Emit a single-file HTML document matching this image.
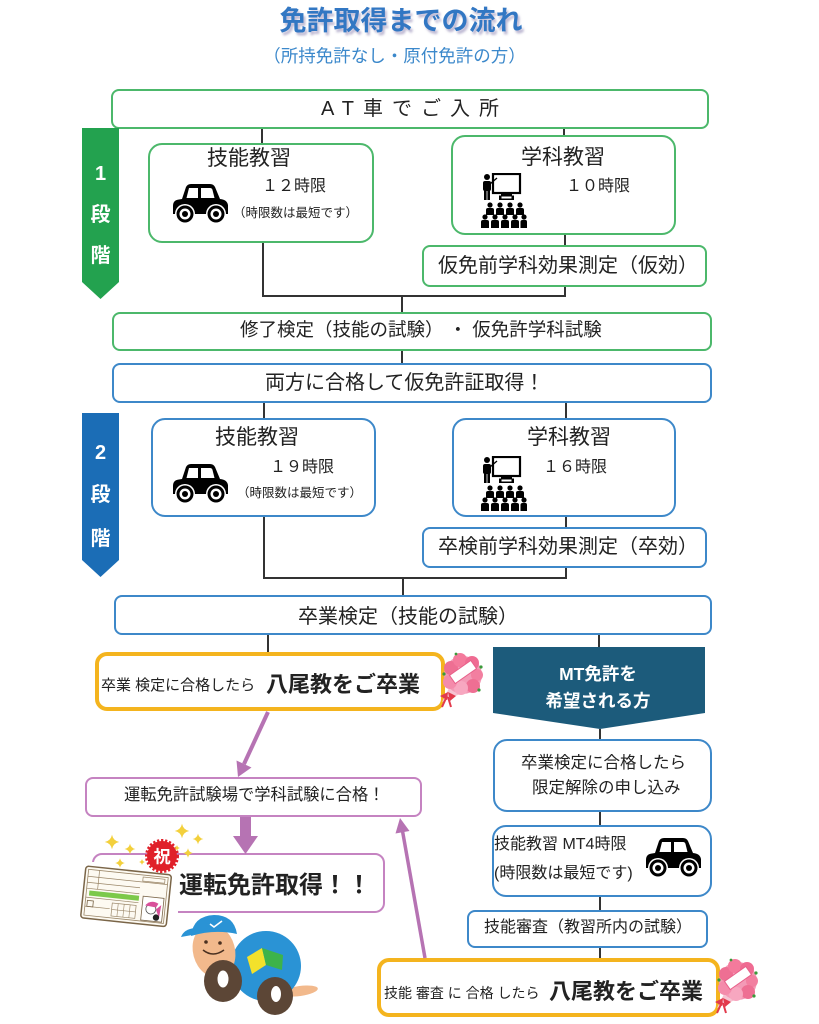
<!DOCTYPE html>
<html lang="ja"><head><meta charset="utf-8"><title>免許取得までの流れ</title>
<style>
*{margin:0;padding:0;box-sizing:border-box}
html,body{width:819px;height:1024px}
body{position:relative;background:#fff;overflow:hidden;font-family:"Liberation Sans","Noto Sans CJK JP",sans-serif;color:#222}
.t{position:absolute;white-space:nowrap;line-height:1}
.b{position:absolute;background:#fff;border:2px solid #4cb86b}
.g{border-color:#4cb86b}
.u{border-color:#3d88c9}
.p{border-color:#c583c1}
.y{border:4px solid #f4b41e;border-radius:12px}
</style></head><body>

<div class="t" style="left:0;width:802px;text-align:center;top:8px;font-size:27px;font-weight:bold;color:#3277c3;text-shadow:2px 3px 2px rgba(130,120,170,.5)">免許取得までの流れ</div>
<div class="t" style="left:0;width:789px;text-align:center;top:48px;font-size:17.5px;color:#3b88cb">（所持免許なし・原付免許の方）</div>

<!-- AT -->
<div class="b g" style="left:111px;top:89px;width:598px;height:40px;border-radius:8px"></div>
<div class="t" style="left:111px;width:598px;text-align:center;top:99px;font-size:20px;letter-spacing:9px;padding-left:9px">AT車でご入所</div>

<!-- stage 1 -->
<div class="b g" style="left:148px;top:143px;width:226px;height:100px;border-radius:14px"></div>
<div class="t" style="left:207px;top:147.5px;font-size:21px">技能教習</div>
<div class="t" style="left:262px;top:179px;font-size:16px">１２時限</div>
<div class="t" style="left:233px;top:207px;font-size:12.5px">（時限数は最短です）</div>

<div class="b g" style="left:451px;top:135px;width:225px;height:100px;border-radius:14px"></div>
<div class="t" style="left:521px;top:146.5px;font-size:21px">学科教習</div>
<div class="t" style="left:566px;top:179px;font-size:16px">１０時限</div>

<div class="b g" style="left:422px;top:245px;width:285px;height:42px;border-radius:8px"></div>
<div class="t" style="left:438px;top:256px;font-size:20px">仮免前学科効果測定（仮効）</div>

<div class="b g" style="left:112px;top:312px;width:600px;height:39px;border-radius:8px"></div>
<div class="t" style="left:240px;top:321px;font-size:18.5px">修了検定（技能の試験） ・ 仮免許学科試験</div>

<div class="b u" style="left:112px;top:363px;width:600px;height:40px;border-radius:8px"></div>
<div class="t" style="left:265px;top:373px;font-size:20px">両方に合格して仮免許証取得！</div>

<!-- stage 2 -->
<div class="b u" style="left:151px;top:418px;width:225px;height:99px;border-radius:14px"></div>
<div class="t" style="left:215px;top:426.5px;font-size:21px">技能教習</div>
<div class="t" style="left:270px;top:460px;font-size:16px">１９時限</div>
<div class="t" style="left:237px;top:487px;font-size:12.5px">（時限数は最短です）</div>

<div class="b u" style="left:452px;top:418px;width:224px;height:99px;border-radius:14px"></div>
<div class="t" style="left:527px;top:426.5px;font-size:21px">学科教習</div>
<div class="t" style="left:543px;top:460px;font-size:16px">１６時限</div>

<div class="b u" style="left:422px;top:527px;width:285px;height:41px;border-radius:8px"></div>
<div class="t" style="left:438px;top:537px;font-size:20px">卒検前学科効果測定（卒効）</div>

<div class="b u" style="left:114px;top:595px;width:598px;height:40px;border-radius:8px"></div>
<div class="t" style="left:298px;top:607px;font-size:20px">卒業検定（技能の試験）</div>

<!-- yellow 1 -->
<div class="b y" style="left:95px;top:652px;width:350px;height:59px"></div>
<div class="t" style="left:101px;top:677.5px;font-size:15px">卒業 検定に合格したら</div>
<div class="t" style="left:266px;top:674px;font-size:22px;font-weight:bold">八尾教をご卒業</div>

<!-- MT side -->
<div class="b u" style="left:493px;top:739px;width:219px;height:73px;border-radius:14px"></div>
<div class="t" style="left:521px;top:755px;font-size:16.5px">卒業検定に合格したら</div>
<div class="t" style="left:532px;top:780px;font-size:16.5px">限定解除の申し込み</div>

<div class="b u" style="left:492px;top:825px;width:220px;height:72px;border-radius:14px"></div>
<div class="t" style="left:494px;top:837px;font-size:16px">技能教習 MT4時限</div>
<div class="t" style="left:494px;top:866px;font-size:16px">(時限数は最短です)</div>

<div class="b u" style="left:467px;top:910px;width:241px;height:38px;border-radius:8px"></div>
<div class="t" style="left:484px;top:920px;font-size:16px">技能審査（教習所内の試験）</div>

<div class="b y" style="left:377px;top:958px;width:343px;height:59px"></div>
<div class="t" style="left:384px;top:986px;font-size:14px">技能 審査 に 合格 したら</div>
<div class="t" style="left:549px;top:981px;font-size:22px;font-weight:bold">八尾教をご卒業</div>

<!-- purple -->
<div class="b p" style="left:85px;top:777px;width:337px;height:40px;border-radius:8px"></div>
<div class="t" style="left:124px;top:787px;font-size:16.3px">運転免許試験場で学科試験に合格！</div>

<div class="b p" style="left:92px;top:853px;width:293px;height:60px;border-radius:10px;border-width:2.5px"></div>
<div class="t" style="left:179px;top:874px;font-size:24px;font-weight:bold">運転免許取得！！</div>

<svg style="position:absolute;left:0;top:0" width="819" height="1024" viewBox="0 0 819 1024">
<defs>
<symbol id="car" viewBox="0 0 60 40">
<path d="M3,31 L3,23 Q3,17 9,16.5 L12,16 L16,4 Q17.5,1 21,1 L40,1 Q43.5,1 45,4 L50,16 Q57,16.5 58,22 L58,31 Z" fill="#000"/>
<path d="M19,5 L28,5 L28,15 L16.5,15 Z" fill="#fff"/>
<path d="M31,5 L40,5 Q42,5 42.5,7 L44.5,15 L31,15 Z" fill="#fff"/>
<circle cx="15" cy="31" r="10" fill="#fff"/><circle cx="15" cy="31" r="8.5" fill="#000"/><circle cx="15" cy="31" r="5.5" fill="#fff"/><circle cx="15" cy="31" r="3" fill="#000"/>
<circle cx="46" cy="31" r="10" fill="#fff"/><circle cx="46" cy="31" r="8.5" fill="#000"/><circle cx="46" cy="31" r="5.5" fill="#fff"/><circle cx="46" cy="31" r="3" fill="#000"/>
</symbol>
<symbol id="cls" viewBox="0 0 46 56">
<rect x="12" y="1" width="27" height="19" fill="none" stroke="#000" stroke-width="2.2"/>
<rect x="20" y="20" width="11" height="2.5" fill="#000"/>
<rect x="18" y="22.5" width="15" height="4.5" fill="#000"/>
<rect x="20.5" y="23.5" width="10" height="2" fill="#fff"/>
<circle cx="6" cy="4" r="3" fill="#000"/>
<rect x="2" y="8" width="8" height="10" rx="2" fill="#000"/>
<rect x="3" y="17" width="2.6" height="10" fill="#000"/>
<rect x="6.4" y="17" width="2.6" height="10" fill="#000"/>
<line x1="9" y1="11" x2="16" y2="5" stroke="#000" stroke-width="1.3"/>
<g fill="#000">
<circle cx="9" cy="32" r="2.6"/><path d="M5,42 L5,37 Q5,35 7,35 L11,35 Q13,35 13,37 L13,42Z"/>
<circle cx="19" cy="32" r="2.6"/><path d="M15,42 L15,37 Q15,35 17,35 L21,35 Q23,35 23,37 L23,42Z"/>
<circle cx="29" cy="32" r="2.6"/><path d="M25,42 L25,37 Q25,35 27,35 L31,35 Q33,35 33,37 L33,42Z"/>
<circle cx="39" cy="32" r="2.6"/><path d="M35,42 L35,37 Q35,35 37,35 L41,35 Q43,35 43,37 L43,42Z"/>
<circle cx="4" cy="44" r="2.6"/><path d="M0,55 L0,49 Q0,47 2,47 L6,47 Q8,47 8,49 L8,55Z"/>
<circle cx="14" cy="44" r="2.6"/><path d="M10,55 L10,49 Q10,47 12,47 L16,47 Q18,47 18,49 L18,55Z"/>
<circle cx="24" cy="44" r="2.6"/><path d="M20,55 L20,49 Q20,47 22,47 L26,47 Q28,47 28,49 L28,55Z"/>
<circle cx="34" cy="44" r="2.6"/><path d="M30,55 L30,49 Q30,47 32,47 L36,47 Q38,47 38,49 L38,55Z"/>
<circle cx="43" cy="44" r="2.6"/><path d="M39.5,55 L39.5,49 Q39.5,47 41.5,47 L44.5,47 Q46,47 46,49 L46,55Z"/>
</g>
</symbol>
<symbol id="bq" viewBox="0 0 48 56">
<path d="M6,50 L14,34 L24,42 Z" fill="#f6c3d2"/>
<circle cx="27" cy="23" r="19" fill="#f39ab6"/>
<circle cx="15" cy="16" r="7" fill="#ee6f93"/>
<circle cx="24" cy="8" r="7" fill="#f47a9c"/>
<circle cx="36" cy="11" r="7" fill="#ef6b92"/>
<circle cx="41" cy="23" r="6" fill="#f27fa0"/>
<circle cx="37" cy="34" r="7" fill="#ee6f93"/>
<circle cx="25" cy="36" r="7" fill="#f7a7c0"/>
<circle cx="14" cy="30" r="7" fill="#f48bab"/>
<rect x="14" y="15" width="26" height="10" fill="#fff" stroke="#e8608a" stroke-width="1" transform="rotate(-35 27 20)"/>
<path d="M4,44 L12,40 L11,48 Z M12,40 L20,44 L14,49Z" fill="#e23a4c"/>
<path d="M11,44 L6,55 M12,45 L15,55" stroke="#e23a4c" stroke-width="2"/>
<circle cx="8" cy="22" r="1.6" fill="#3a9a3a"/><circle cx="45" cy="15" r="1.6" fill="#3a9a3a"/><circle cx="43" cy="38" r="1.6" fill="#3a9a3a"/><circle cx="20" cy="2" r="1.4" fill="#3a9a3a"/>
</symbol>
<path id="sp" d="M0,-6 Q1,-1 6,0 Q1,1 0,6 Q-1,1 -6,0 Q-1,-1 0,-6Z" fill="#f3d03c"/>
</defs>

<!-- connectors -->
<g stroke="#333" stroke-width="2" fill="none">
<path d="M262,129 V143 M564,129 V135"/>
<path d="M263,243 V296 M565,235 V245 M565,287 V296 M262,296 H566 M402,296 V312"/>
<path d="M402,351 V363 M264,403 V418 M566,403 V418"/>
<path d="M264,517 V578 M566,517 V527 M566,568 V578 M263,578 H567 M403,578 V595"/>
<path d="M268,635 V652 M599,635 V647"/>
<path d="M600,729 V739 M600,812 V825 M600,897 V910 M600,948 V958"/>
</g>

<!-- stage badges -->
<polygon points="82,128 119,128 119,282 100.5,299 82,282" fill="#23a24f"/>
<g fill="#fff" font-weight="bold" font-size="20" text-anchor="middle" font-family="Liberation Sans, Noto Sans CJK JP, sans-serif">
<text x="100.5" y="180">1</text><text x="100.5" y="221">段</text><text x="100.5" y="262">階</text>
</g>
<polygon points="82,413 119,413 119,560 100.5,577 82,560" fill="#1b6db6"/>
<g fill="#fff" font-weight="bold" font-size="20" text-anchor="middle" font-family="Liberation Sans, Noto Sans CJK JP, sans-serif">
<text x="100.5" y="459">2</text><text x="100.5" y="501">段</text><text x="100.5" y="545">階</text>
</g>

<!-- icons -->
<use href="#car" x="170" y="183" width="60" height="40"/>
<use href="#car" x="170" y="463" width="60" height="40"/>
<use href="#car" x="643" y="837" width="60" height="40"/>
<use href="#cls" x="481" y="173" width="46" height="56"/>
<use href="#cls" x="481" y="456" width="46" height="56"/>

<!-- MT banner -->
<polygon points="493,647 705,647 705,713 600,729 493,713" fill="#1c5b7b"/>
<g fill="#fff" font-weight="bold" font-size="17.5" text-anchor="middle" font-family="Liberation Sans, Noto Sans CJK JP, sans-serif">
<text x="598" y="680">MT免許を</text><text x="598" y="707">希望される方</text>
</g>

<!-- bouquets -->
<use href="#bq" x="436" y="652" width="48" height="56"/>
<use href="#bq" x="711" y="958" width="48" height="56"/>

<!-- purple arrows -->
<g fill="#b673b3" stroke="#b673b3">
<line x1="268" y1="712" x2="244" y2="764" stroke-width="4"/>
<polygon points="238,777 251.5,767.5 236.5,760.5" stroke="none"/>
<rect x="240" y="817" width="11" height="22" stroke="none"/>
<polygon points="233,836 258,836 245.5,854" stroke="none"/>
<line x1="425" y1="958" x2="402.5" y2="831" stroke-width="3.5"/>
<polygon points="400,818 409.5,831 395.5,833.5" stroke="none"/>
</g>

<!-- card -->
<rect x="77" y="862" width="101" height="70" fill="#fff"/>
<g transform="translate(86,866) rotate(6)">
<rect x="0" y="0" width="86" height="52" rx="3" fill="#fdfaf2" stroke="#7a6548" stroke-width="1.5"/>
<rect x="3" y="3" width="80" height="46" fill="none" stroke="#9a8668" stroke-width="0.8"/>
<path d="M3,10 H83 M3,16 H56 M3,22 H56 M14,3 V22 M3,31 H56 M3,40 H28" stroke="#9a8668" stroke-width="0.7"/>
<rect x="58" y="5" width="22" height="4" fill="none" stroke="#9a8668" stroke-width="0.7"/>
<rect x="6" y="24" width="50" height="5" fill="#7cc94a"/>
<rect x="5" y="34" width="6" height="6" fill="none" stroke="#7a6548" stroke-width="0.8"/>
<rect x="30" y="34" width="24" height="13" fill="none" stroke="#9a8668" stroke-width="0.7"/>
<path d="M36,34 V47 M42,34 V47 M48,34 V47 M30,40.5 H54" stroke="#9a8668" stroke-width="0.6"/>
<rect x="60" y="24" width="21" height="24" fill="#fff" stroke="#7a6548" stroke-width="0.8"/>
<circle cx="69" cy="36" r="5" fill="#fff" stroke="#555" stroke-width="0.8"/>
<path d="M63,33 Q68,26 76,30 L74,34 Z" fill="#d9509a"/>
<path d="M74,36 L79,31 L78,44 Z" fill="#d9509a"/>
<circle cx="75" cy="44" r="3.2" fill="#222"/>
</g>

<!-- 祝 -->
<circle cx="162" cy="856" r="15.5" fill="none" stroke="#e0202a" stroke-width="3" stroke-dasharray="2.2 1.8"/>
<circle cx="162" cy="856" r="15" fill="#e0202a"/>
<text x="162" y="862.5" text-anchor="middle" fill="#fff" font-size="17" font-weight="bold" font-family="Liberation Sans, Noto Sans CJK JP, sans-serif">祝</text>

<!-- sparkles -->
<use href="#sp" transform="translate(112,842) scale(1.2)"/>
<use href="#sp" transform="translate(130,849) scale(0.9)"/>
<use href="#sp" transform="translate(120,863) scale(0.8)"/>
<use href="#sp" transform="translate(182,831) scale(1.2)"/>
<use href="#sp" transform="translate(198,839) scale(0.9)"/>
<use href="#sp" transform="translate(188,853) scale(0.8)"/>
<use href="#sp" transform="translate(142,862) scale(0.5)"/>
<use href="#sp" transform="translate(177,848) scale(0.5)"/>

<!-- turtle mascot -->
<ellipse cx="300" cy="991" rx="18" ry="5" fill="#f2b98c" transform="rotate(-8 300 991)"/>
<circle cx="266" cy="966" r="35" fill="#2a93d5"/>
<ellipse cx="214" cy="951" rx="21" ry="27" fill="#f2b98c" transform="rotate(-15 214 951)"/>
<path d="M191,936 Q193,916 214,915 Q234,915 237,934 Q214,929 191,936Z" fill="#2a93d5"/>
<path d="M192,935 L181,937 Q184,929 195,928Z" fill="#2a93d5"/>
<path d="M210,924 L214,927 L222,921" stroke="#fff" stroke-width="1.6" fill="none"/>
<circle cx="206" cy="942" r="1.8" fill="#4a3020"/>
<circle cx="220" cy="943" r="1.8" fill="#4a3020"/>
<path d="M203,950 Q213,958 224,950" stroke="#4a3020" stroke-width="1.5" fill="none"/>
<polygon points="247,957 262,948 266,965 252,974" fill="#f3e12b"/>
<polygon points="262,948 283,955 282,970 266,965" fill="#3db34a"/>
<ellipse cx="223" cy="981" rx="19" ry="21" fill="#5c4636"/>
<ellipse cx="223" cy="979" rx="5.5" ry="8.5" fill="#fff"/>
<ellipse cx="275" cy="996" rx="18" ry="19" fill="#5c4636"/>
<ellipse cx="276" cy="994" rx="5" ry="8" fill="#fff"/>
</svg>
</body></html>
